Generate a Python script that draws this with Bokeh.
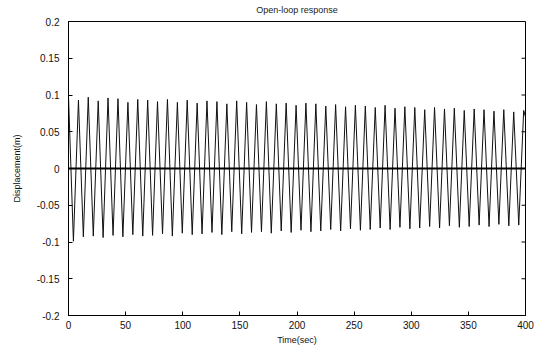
import math
from bokeh.plotting import figure
from bokeh.models import FixedTicker, Span, Range1d
from bokeh.embed import file_html
from bokeh.resources import INLINE

# ---- data ----
peak_times = [0.0, 8.7, 17.3, 26.0, 34.6, 43.3, 52.0, 60.6, 69.3, 77.9, 86.6, 95.3,
              103.9, 112.6, 121.2, 129.9, 138.6, 147.2, 155.9, 164.5, 173.2, 181.9,
              190.5, 199.2, 207.8, 216.5, 225.2, 233.8, 242.5, 251.1, 259.8, 268.5,
              277.1, 285.8, 294.4, 303.1, 311.8, 320.4, 329.1, 337.7, 346.4, 355.1,
              363.7, 372.4, 381.0, 389.7, 398.4]
peak_values = [0.098, 0.093, 0.097, 0.092, 0.096, 0.095, 0.090, 0.094, 0.093, 0.091,
               0.094, 0.090, 0.093, 0.089, 0.092, 0.091, 0.088, 0.092, 0.090, 0.087,
               0.091, 0.088, 0.089, 0.086, 0.089, 0.088, 0.085, 0.087, 0.084, 0.086,
               0.085, 0.083, 0.086, 0.082, 0.084, 0.083, 0.080, 0.083, 0.081, 0.082,
               0.079, 0.081, 0.080, 0.078, 0.080, 0.077, 0.079]
trough_times = [4.3, 13.0, 21.7, 30.3, 39.0, 47.6, 56.3, 65.0, 73.6, 82.3, 90.9, 99.6,
                108.3, 116.9, 125.6, 134.2, 142.9, 151.6, 160.2, 168.9, 177.5, 186.2,
                194.9, 203.5, 212.2, 220.8, 229.5, 238.2, 246.8, 255.5, 264.1, 272.8,
                281.5, 290.1, 298.8, 307.4, 316.1, 324.8, 333.4, 342.1, 350.7, 359.4,
                368.1, 376.7, 385.4, 394.1]
trough_values = [-0.099, -0.093, -0.092, -0.094, -0.091, -0.093, -0.090, -0.092, -0.091,
                 -0.089, -0.092, -0.088, -0.090, -0.089, -0.087, -0.090, -0.086, -0.089,
                 -0.087, -0.086, -0.088, -0.085, -0.087, -0.084, -0.086, -0.085, -0.083,
                 -0.085, -0.082, -0.084, -0.083, -0.081, -0.083, -0.080, -0.082, -0.081,
                 -0.079, -0.081, -0.078, -0.080, -0.079, -0.077, -0.079, -0.076, -0.078,
                 -0.077]
end_time = [400.0]
end_value = [0.070]

x_ticks = [0, 50, 100, 150, 200, 250, 300, 350, 400]
y_ticks = [-0.2, -0.15, -0.1, -0.05, 0, 0.05, 0.1, 0.15, 0.2]
y_tick_labels = ["-0.2", "-0.15", "-0.1", "-0.05", "0", "0.05", "0.1", "0.15", "0.2"]

title_text = "Open-loop response"
x_label = "Time(sec)"
y_label = "Displacement(m)"

# interleave extrema into one trace
xs, ys = [], []
for i in range(len(peak_times)):
    xs.append(peak_times[i]); ys.append(peak_values[i])
    if i < len(trough_times):
        xs.append(trough_times[i]); ys.append(trough_values[i])
xs += end_time
ys += end_value

FONT = "Liberation Sans"

p = figure(width=535, height=351, output_backend="svg", toolbar_location=None,
           x_range=Range1d(0, 400), y_range=Range1d(-0.2, 0.2),
           min_border_left=68, min_border_right=10, min_border_top=20,
           min_border_bottom=36, background_fill_color="white",
           border_fill_color="white")

p.title.text = title_text
p.title.align = "center"
p.title.vertical_align = "top"
p.title.text_font = FONT
p.title.text_font_size = "9px"
p.title.text_font_style = "normal"
p.title.text_color = "#222222"
p.title.standoff = 9
p.title.offset = 0

p.line(xs, ys, line_color="#111111", line_width=1)
p.add_layout(Span(location=0, dimension="width", line_color="black", line_width=2))

# inward ticks on the right edge
p.ray(x=[x_ticks[-1]] * len(y_ticks), y=y_ticks, length=4, length_units="screen",
      angle=math.pi, line_color="black", line_width=1)

p.grid.visible = False
p.outline_line_color = "black"
p.outline_line_width = 1

for ax in p.xaxis:
    ax.ticker = FixedTicker(ticks=x_ticks)
for ax in p.yaxis:
    ax.ticker = FixedTicker(ticks=y_ticks)
    ax.major_label_overrides = dict(zip(y_ticks, y_tick_labels))

for ax in p.xaxis + p.yaxis:
    ax.major_tick_in = 4
    ax.major_tick_out = 0
    ax.minor_tick_line_color = None
    ax.axis_line_color = "black"
    ax.major_tick_line_color = "black"
    ax.major_label_text_font = FONT
    ax.major_label_text_font_size = "10px"
    ax.major_label_text_color = "#111111"
    ax.axis_label_text_font = FONT
    ax.axis_label_text_font_size = "9px"
    ax.axis_label_text_font_style = "normal"
    ax.axis_label_text_color = "#111111"

p.xaxis.axis_label = x_label
p.yaxis.axis_label = y_label
p.xaxis.major_label_standoff = 5
p.xaxis.axis_label_standoff = 3
p.yaxis.major_label_standoff = 9
p.yaxis.axis_label_standoff = 12

open("out.html", "w").write(file_html(p, INLINE))
